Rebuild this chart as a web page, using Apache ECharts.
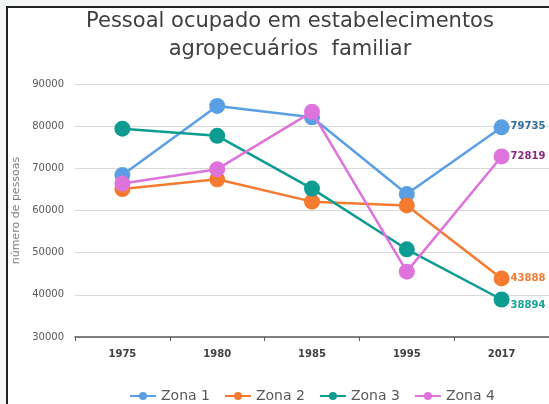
<!DOCTYPE html>
<html><head><meta charset="utf-8">
<script src="https://cdn.jsdelivr.net/npm/echarts@6/dist/echarts.min.js"></script>
<style>html,body{margin:0;padding:0;background:#f4f6f5;}#c{width:549px;height:404px;}</style>
</head><body><div id="c"></div>
<script>
var categories = ['1975','1980','1985','1995','2017'];
var zona1 = [68400, 84800, 82100, 63900, 79735];
var zona2 = [65100, 67400, 62100, 61200, 43888];
var zona3 = [79400, 77700, 65200, 50800, 38894];
var zona4 = [66400, 69800, 83400, 45500, 72819];
var seriesNames = ['Zona 1','Zona 2','Zona 3','Zona 4'];
var colors = ['#5a9fe4','#f47b30','#0d9c92','#de73db'];
var labelColors = ['#2d6e9c','#f47b30','#14a096','#8a2a80'];
var labelOffsets = [[0,-1],[0,0],[0,6],[0,0]];
var yTicks = {min:30000, max:90000, interval:10000};
var FONT = 'DejaVu Sans';

var chart = echarts.init(document.getElementById('c'));
function mk(i, data){
  return {
    name: seriesNames[i], type:'line', data: data.map(function(v, j){
      if (j === data.length-1) return {value:v, label:{show:true, position:'right', distance:1, offset:labelOffsets[i], color:labelColors[i], fontWeight:'bold', fontSize:10, fontFamily:FONT, formatter:'{c}'}};
      return v;
    }),
    symbol:'circle', symbolSize:16, lineStyle:{width:2.5, color:colors[i]},
    itemStyle:{color:colors[i]}, emphasis:{disabled:true}, z: 2+i
  };
}
chart.setOption({
  animation:false,
  backgroundColor:'#f4f6f5',
  graphic:[
    {type:'rect', shape:{x:7,y:7,width:560,height:420}, style:{fill:'#ffffff', stroke:'#222222', lineWidth:2}, z:-10, silent:true}
  ],
  title:{text:'Pessoal ocupado em estabelecimentos\nagropecuários  familiar', left:285, textAlign:'center', top:3,
    textStyle:{fontFamily:FONT, fontSize:21, fontWeight:'normal', color:'#404040', lineHeight:28}},
  legend:{bottom:-4, left:124, itemWidth:26, itemHeight:10, itemGap:14, data:seriesNames,
    textStyle:{fontFamily:FONT, fontSize:14, color:'#595959'}},
  grid:{left:75, right:-1, top:84, bottom:67},
  xAxis:{type:'category', data:categories, boundaryGap:true,
    axisLine:{lineStyle:{color:'#595959', width:1.5}},
    axisTick:{show:true, length:4, lineStyle:{color:'#595959'}},
    axisLabel:{fontFamily:FONT, fontSize:10, fontWeight:'bold', color:'#404040', margin:12}},
  yAxis:{type:'value', min:yTicks.min, max:yTicks.max, interval:yTicks.interval,
    name:'número de pessoas', nameLocation:'middle', nameGap:48, nameRotate:90,
    nameTextStyle:{fontFamily:FONT, fontSize:11, color:'#7f7f7f'},
    axisLine:{show:false}, axisTick:{show:false},
    axisLabel:{fontFamily:FONT, fontSize:10, color:'#595959', margin:11, formatter:function(v){return String(v);}},
    splitLine:{lineStyle:{color:'#d9d9d9', width:1}}},
  series:[mk(0,zona1), mk(1,zona2), mk(2,zona3), mk(3,zona4)]
});
</script></body></html>
